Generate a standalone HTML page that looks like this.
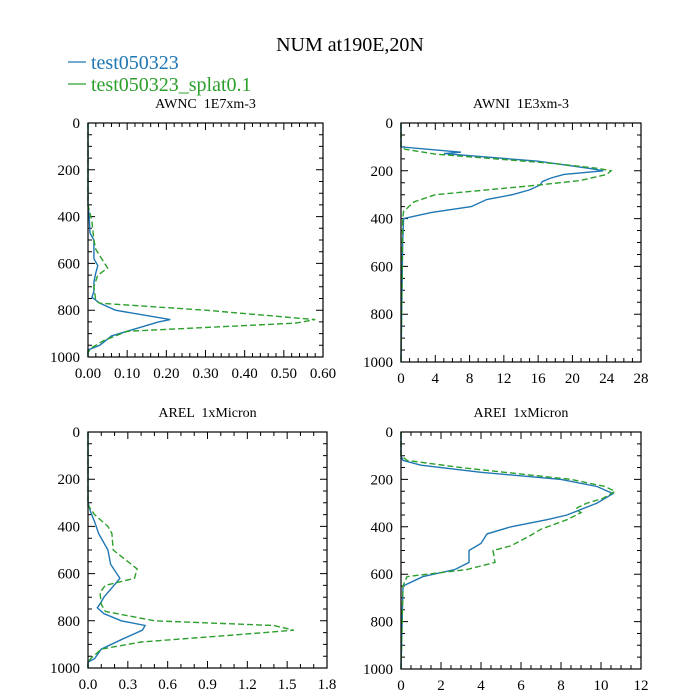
<!DOCTYPE html>
<html><head><meta charset="utf-8"><style>
body{margin:0;background:#fff}
svg{display:block;font-family:"Liberation Serif",serif}
svg text{white-space:pre}
</style></head><body>
<svg id="c" width="700" height="700" xmlns="http://www.w3.org/2000/svg">
<text x="350" y="51" font-size="20" text-anchor="middle">NUM at190E,20N</text>
<g>
<line x1="68" y1="62" x2="86" y2="62" stroke="#1f77b4" stroke-width="1.3"/>
<text x="91" y="69" font-size="20" fill="#1f77b4">test050323</text>
<line x1="68" y1="84" x2="86" y2="84" stroke="#2ca02c" stroke-width="1.3"/>
<text x="91" y="91" font-size="20" fill="#2ca02c">test050323_splat0.1</text>
</g>
</svg>
<script>
const awncP1=[0,350,400,470,500,580,610,640,680,720,745,770,800,840,850,880,910,950,970,1000];
const awncV1=[0,0,0.003,0.005,0.015,0.015,0.025,0.02,0.015,0.015,0.01,0.03,0.07,0.21,0.18,0.12,0.06,0.03,0,0];
const awncP2=[0,350,420,500,540,620,650,700,760,770,800,840,855,890,930,960,980,1000];
const awncV2=[0,0,0.01,0.015,0.02,0.05,0.025,0.015,0.02,0.03,0.3,0.58,0.53,0.1,0.04,0.01,0,0];
const awniP1=[0,100,122,128,160,190,200,215,230,245,260,280,300,320,350,375,400,500,1000];
const awniV1=[0,0,7,5,16,22,23.6,19,17.5,16.5,16.2,15,13,10,8.2,3.5,0.3,0.2,0];
const awniP2=[0,100,110,130,170,190,200,215,240,260,280,300,330,370,400,1000];
const awniV2=[0,0,0.5,4,18,23,24.5,24,21,16,10,4,1.5,0.3,0.2,0];
const arelP1=[0,300,340,380,430,500,560,620,660,700,720,745,770,800,820,840,880,920,960,975,1000];
const arelV1=[0,0,0.02,0.05,0.08,0.15,0.17,0.24,0.18,0.12,0.1,0.07,0.12,0.25,0.43,0.41,0.25,0.1,0.05,0,0];
const arelP2=[0,310,350,400,430,500,580,620,650,680,730,760,800,820,840,860,890,920,960,975,1000];
const arelV2=[0,0,0.05,0.15,0.18,0.19,0.37,0.35,0.13,0.09,0.1,0.13,0.5,1.4,1.55,1.1,0.4,0.1,0.02,0,0];
const areiP1=[0,100,120,140,170,200,230,260,300,350,370,400,430,470,500,550,580,610,650,1000];
const areiV1=[0,0,0.1,1,4,8,9.8,10.6,9.8,8.3,7.3,5.5,4.3,4,3.4,3.4,2.7,1.1,0.1,0];
const areiP2=[0,100,120,150,200,230,250,280,300,320,330,340,370,410,440,480,500,550,580,610,650,1000];
const areiV2=[0,0,0.3,3,8.5,10.2,10.7,10.1,9.3,8.8,8.8,9,8.3,7,6.4,5.5,4.6,4.7,3.3,0.3,0.1,0];
const awncTicks=["0.00","0.10","0.20","0.30","0.40","0.50","0.60"];
const awniTicks=["0","4","8","12","16","20","24","28"];
const arelTicks=["0.0","0.3","0.6","0.9","1.2","1.5","1.8"];
const areiTicks=["0","2","4","6","8","10","12"];
const yTicks=["0","200","400","600","800","1000"];

const NS="http://www.w3.org/2000/svg";
const svg=document.getElementById('c');
function mk(t,a,p){const e=document.createElementNS(NS,t);for(const k in a)e.setAttribute(k,a[k]);(p||svg).appendChild(e);return e;}
const panels=[
 {name:'awnc',title:'AWNC  1E7xm-3',x0:88,x1:323,y0:123,y1:357,ticks:awncTicks,minor:5,s:[[awncP1,awncV1],[awncP2,awncV2]]},
 {name:'awni',title:'AWNI  1E3xm-3',x0:401,x1:641,y0:123,y1:362,ticks:awniTicks,minor:4,s:[[awniP1,awniV1],[awniP2,awniV2]]},
 {name:'arel',title:'AREL  1xMicron',x0:88,x1:327,y0:432,y1:668,ticks:arelTicks,minor:3,s:[[arelP1,arelV1],[arelP2,arelV2]]},
 {name:'arei',title:'AREI  1xMicron',x0:401,x1:641,y0:432,y1:669,ticks:areiTicks,minor:4,s:[[areiP1,areiV1],[areiP2,areiV2]]}
];
const cols=['#1f77b4','#2ca02c'];
panels.forEach(pn=>{
 const g=mk('g',{});
 
 
 const xmax=parseFloat(pn.ticks[pn.ticks.length-1]);
 const X=v=>pn.x0+v/xmax*(pn.x1-pn.x0);
 const Y=p=>pn.y0+p/1000*(pn.y1-pn.y0);
 const t=mk('text',{x:(pn.x0+pn.x1)/2,y:pn.y0-15,'font-size':14,'text-anchor':'middle'},g);
 t.textContent=pn.title;
 
 
 let d='';
 const nx=pn.ticks.length-1;
 for(let i=0;i<=nx*pn.minor;i++){const v=i/pn.minor*xmax/nx;const x=X(v);const L=i%pn.minor==0?7:4;
   d+=`M${x} ${pn.y1}v${-L}M${x} ${pn.y0}v${L}`;}
 for(let p=0;p<=1000;p+=50){const y=Y(p);const L=p%200==0?7:4;d+=`M${pn.x0} ${y}h${L}M${pn.x1} ${y}h${-L}`;}
 const tk=mk('path',{d:d,stroke:'#000','stroke-width':1,fill:'none'},g);
 
 
 pn.ticks.forEach((lab,i)=>{const e=mk('text',{x:X(parseFloat(lab)),y:pn.y1+21,'font-size':15,'text-anchor':'middle'},g);e.textContent=lab;
   
   });
 yTicks.forEach(lab=>{const e=mk('text',{x:pn.x0-8,y:Y(+lab)+5,'font-size':15,'text-anchor':'end'},g);e.textContent=lab;
   
   });
 pn.s.forEach((s,k)=>{
   const pts=s[0].map((p,i)=>X(s[1][i]).toFixed(1)+','+Y(p).toFixed(1)).join(' ');
   const l=mk('polyline',{points:pts,fill:'none',stroke:cols[k],'stroke-width':1.4},g);
   if(k==1)l.setAttribute('stroke-dasharray','6,3');
   
   
 });
 const fr=mk('rect',{x:pn.x0,y:pn.y0,width:pn.x1-pn.x0,height:pn.y1-pn.y0,fill:'none',stroke:'#000','stroke-width':1.2},g);
 
 
});
</script>
</body></html>
